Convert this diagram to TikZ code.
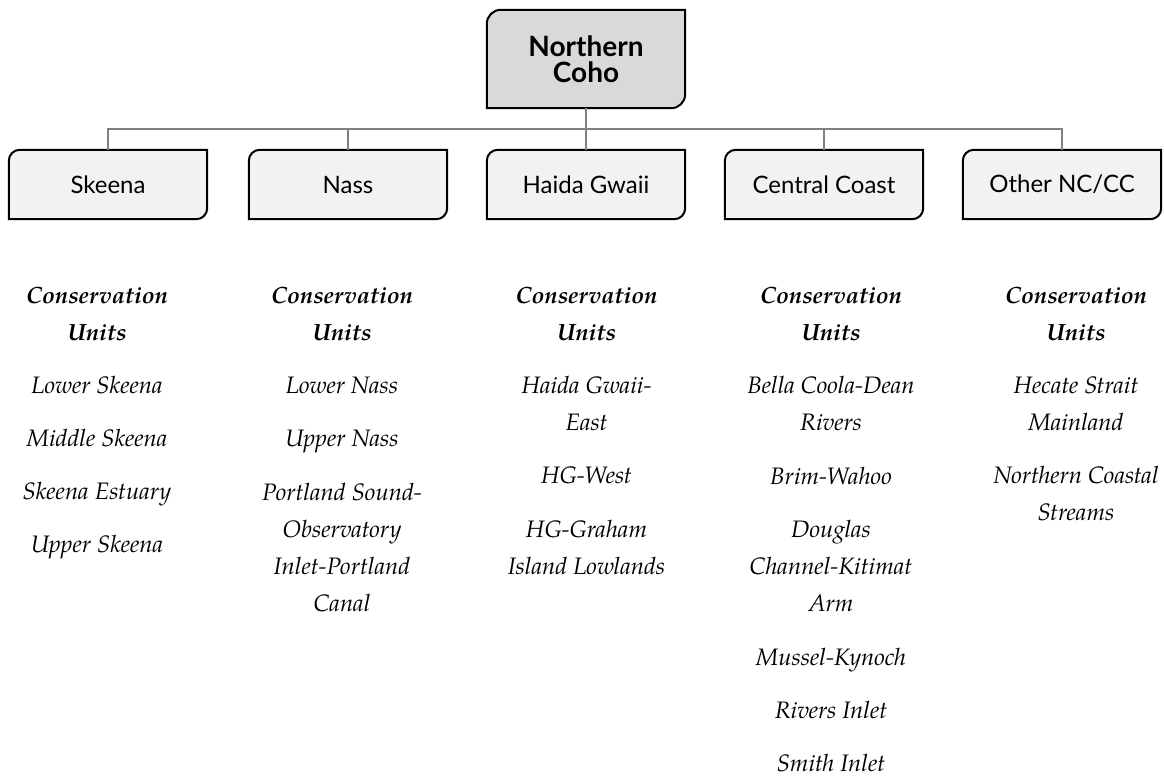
\documentclass[tikz,border=0pt]{standalone}
\usepackage{fontspec}
\usetikzlibrary{backgrounds}
\newfontfamily\boxfont{Lato}
\newfontfamily\cufont{texgyrepagella}[Extension=.otf, UprightFont=*-regular,
  BoldFont=*-bold, ItalicFont=*-italic, BoldItalicFont=*-bolditalic]
\definecolor{topfill}{HTML}{D9D9D9}
\definecolor{boxfill}{HTML}{F2F2F2}
\definecolor{linkgray}{HTML}{808080}
\tikzset{
  basebox/.style={rectangle, inner sep=0pt, minimum width=198pt, align=center},
  topbox/.style={basebox, minimum height=98pt,
    font=\boxfont\bfseries\fontsize{28}{25.5}\selectfont},
  regionbox/.style={basebox, minimum height=69pt,
    font=\boxfont\fontsize{24}{28}\selectfont},
  shapeline/.style={draw=black, line width=2pt},
  link/.style={draw=linkgray, line width=2.2pt},
  cuhead/.style={anchor=base, inner sep=0pt,
    font=\cufont\fontsize{23.5}{28}\selectfont\bfseries\itshape},
  cuitem/.style={anchor=base, inner sep=0pt,
    font=\cufont\fontsize{23.8}{28}\selectfont\itshape}
}
% box outline: top-left and bottom-right corners rounded
\newcommand{\cornerbox}[3]{%
  \path[shapeline, fill=#2] (#1.west) [rounded corners=#3] |- (#1.north)
    [sharp corners] -| (#1.east) [rounded corners=#3] |- (#1.south)
    [sharp corners] -| cycle;}
\begin{document}
\begin{tikzpicture}[x=1pt, y=-1pt]
\useasboundingbox (0,0) rectangle (1164,776);

% hierarchy boxes
\node[topbox] (coho) at (586,59) {Northern\\Coho};
\node[regionbox] (skeena) at (108,184.5) {Skeena};
\node[regionbox] (nass) at (348,184.5) {Nass};
\node[regionbox] (haida) at (586,184.5) {Haida Gwaii};
\node[regionbox] (central) at (824,184.5) {Central Coast};
\node[regionbox] (other) at (1062,184.5) {Other NC/CC};

\begin{pgfonlayer}{background}
  \cornerbox{coho}{topfill}{14pt}
  \foreach \b in {skeena,nass,haida,central,other}{\cornerbox{\b}{boxfill}{11pt}}
  % connectors
  \coordinate (bus) at (586,129);
  \draw[link] (coho.south) -- (bus);
  \foreach \b in {skeena,nass,haida,central,other}{\draw[link] (\b.north) |- (bus);}
\end{pgfonlayer}

% Skeena conservation units
\node[cuhead] (sk-h1) at (97,303) {Conservation};
\node[cuhead] (sk-h2) at (97,340) {Units};
\node[cuitem] (sk-1) at (97,393) {Lower Skeena};
\node[cuitem] (sk-2) at (97,446) {Middle Skeena};
\node[cuitem] (sk-3) at (97,499) {Skeena Estuary};
\node[cuitem] (sk-4) at (97,552) {Upper Skeena};

% Nass conservation units
\node[cuhead] (na-h1) at (342,303) {Conservation};
\node[cuhead] (na-h2) at (342,340) {Units};
\node[cuitem] (na-1) at (342,393) {Lower Nass};
\node[cuitem] (na-2) at (342,446) {Upper Nass};
\node[cuitem] (na-3a) at (342,500) {Portland Sound-};
\node[cuitem] (na-3b) at (342,537) {Observatory};
\node[cuitem] (na-3c) at (342,574) {Inlet-Portland};
\node[cuitem] (na-3d) at (342,611) {Canal};

% Haida Gwaii conservation units
\node[cuhead] (hg-h1) at (586.5,303) {Conservation};
\node[cuhead] (hg-h2) at (586.5,340) {Units};
\node[cuitem] (hg-1a) at (586.5,393) {Haida Gwaii-};
\node[cuitem] (hg-1b) at (586.5,430) {East};
\node[cuitem] (hg-2) at (586.5,483) {HG-West};
\node[cuitem] (hg-3a) at (586.5,537) {HG-Graham};
\node[cuitem] (hg-3b) at (586.5,574) {Island Lowlands};

% Central Coast conservation units
\node[cuhead] (cc-h1) at (831,303) {Conservation};
\node[cuhead] (cc-h2) at (831,340) {Units};
\node[cuitem] (cc-1a) at (831,393) {Bella Coola-Dean};
\node[cuitem] (cc-1b) at (831,430) {Rivers};
\node[cuitem] (cc-2) at (831,484) {Brim-Wahoo};
\node[cuitem] (cc-3a) at (831,537) {Douglas};
\node[cuitem] (cc-3b) at (831,574) {Channel-Kitimat};
\node[cuitem] (cc-3c) at (831,611) {Arm};
\node[cuitem] (cc-4) at (831,665) {Mussel-Kynoch};
\node[cuitem] (cc-5) at (831,718) {Rivers Inlet};
\node[cuitem] (cc-6) at (831,771) {Smith Inlet};

% Other NC/CC conservation units
\node[cuhead] (ot-h1) at (1076,303) {Conservation};
\node[cuhead] (ot-h2) at (1076,340) {Units};
\node[cuitem] (ot-1a) at (1076,393) {Hecate Strait};
\node[cuitem] (ot-1b) at (1076,430) {Mainland};
\node[cuitem] (ot-2a) at (1076,483) {Northern Coastal};
\node[cuitem] (ot-2b) at (1076,520) {Streams};
\end{tikzpicture}
\end{document}
